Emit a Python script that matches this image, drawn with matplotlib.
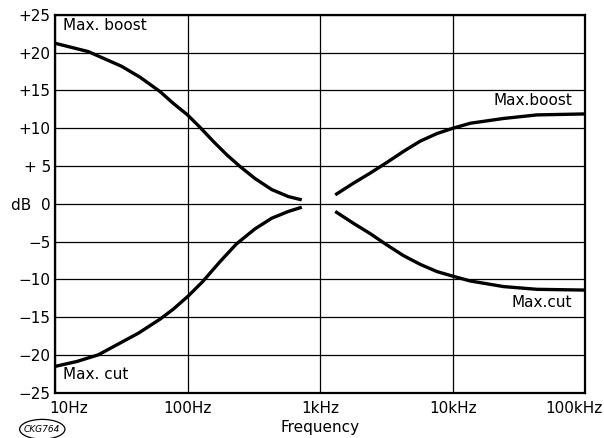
import matplotlib.pyplot as plt
import matplotlib.transforms as mtransforms
from matplotlib.patches import Ellipse

bass_boost_f = [10, 17.8, 31.8, 43.8, 62, 78, 100, 124, 157, 198, 249, 323, 431, 576, 727]
bass_boost_db = [21.25, 20.15, 18.2, 16.76, 14.86, 13.3, 11.77, 10.14, 8.24, 6.48, 4.94, 3.35, 1.9, 0.97, 0.53]

bass_cut_f = [10, 14.6, 21.2, 42.6, 62, 78, 101, 130, 176, 234, 323, 431, 576, 727]
bass_cut_db = [-21.5, -20.85, -19.97, -17.1, -15.25, -13.93, -12.2, -10.28, -7.63, -5.29, -3.3, -1.9, -1.0, -0.44]

treble_boost_f = [1300, 1780, 2380, 3180, 4260, 5690, 7600, 10000, 13600, 24200, 43200, 100000]
treble_boost_db = [1.19, 2.73, 4.06, 5.47, 6.95, 8.3, 9.3, 10.0, 10.67, 11.3, 11.77, 11.9]

treble_cut_f = [1300, 1780, 2380, 3180, 4260, 5690, 7600, 10200, 13600, 24200, 43200, 100000]
treble_cut_db = [-1.0, -2.56, -3.92, -5.42, -6.85, -8.0, -8.95, -9.6, -10.2, -10.94, -11.3, -11.4]

x_ticks = [10, 100, 1000, 10000, 100000]
x_labels = ["10Hz", "100Hz", "1kHz", "10kHz", "100kHz"]
y_ticks = [25, 20, 15, 10, 5, 0, -5, -10, -15, -20, -25]
y_labels = ["+25", "+20", "+15", "+10", "+ 5", "dB  0", "\u22125", "\u221210", "\u221215", "\u221220", "\u221225"]

fs = 11

fig = plt.figure(figsize=(6.04, 4.38), dpi=100)
ax = fig.add_axes([0.091, 0.103, 0.878, 0.863])

for f, db in [(bass_boost_f, bass_boost_db), (bass_cut_f, bass_cut_db),
              (treble_boost_f, treble_boost_db), (treble_cut_f, treble_cut_db)]:
    ax.plot(f, db, color="black", lw=2.4, solid_capstyle="butt", solid_joinstyle="round")

ax.set_xscale("log")
ax.set_xlim(10, 100000)
ax.set_ylim(-25, 25)
ax.set_xticks(x_ticks)
ax.set_xticklabels(x_labels, fontsize=fs)
ax.set_yticks(y_ticks)
ax.set_yticklabels(y_labels, fontsize=fs)
ax.minorticks_off()
ax.tick_params(axis="y", length=0, pad=3)
ax.tick_params(axis="x", length=0, pad=6)
ax.grid(True, color="black", lw=0.9)
for s in ax.spines.values():
    s.set_linewidth(1.6)

# nudge the end labels so they sit inside the figure
xl = ax.get_xticklabels()
xl[0].set_transform(xl[0].get_transform() + mtransforms.ScaledTranslation(0.14, 0, fig.dpi_scale_trans))
xl[-1].set_transform(xl[-1].get_transform() + mtransforms.ScaledTranslation(-0.11, 0, fig.dpi_scale_trans))

ax.set_xlabel("Frequency", fontsize=fs, labelpad=3)

ax.text(11.5, 22.6, "Max. boost", fontsize=fs, va="bottom")
ax.text(11.5, -23.6, "Max. cut", fontsize=fs, va="bottom")
ax.text(80000, 12.7, "Max.boost", fontsize=fs, ha="right", va="bottom")
ax.text(80000, -12.1, "Max.cut", fontsize=fs, ha="right", va="top")

fig.add_artist(Ellipse((0.07, 0.02), 0.075, 0.045, transform=fig.transFigure,
                       fill=False, lw=0.9, color="black"))
fig.text(0.07, 0.02, "CKG764", fontsize=6.5, ha="center", va="center", style="italic")

fig.savefig("out.png", dpi=100)
